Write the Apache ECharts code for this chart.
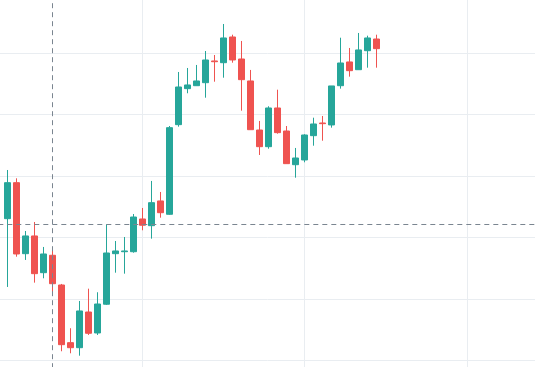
<!DOCTYPE html>
<html><head><meta charset="utf-8">
<script src="https://cdn.jsdelivr.net/npm/echarts@6/dist/echarts.min.js"></script>
<style>html,body{margin:0;padding:0;background:#fff}#c{width:535px;height:367px}</style>
</head><body><div id="c"></div>
<script>
const opens  = [123.08,128.93,117.39,120.27,114.30,117.13,112.30,102.93,102.11,107.91,104.50,109.17,117.39,117.71,117.71,123.03,121.94,125.96,123.79,138.36,144.21,144.69,145.18,148.71,148.43,152.61,149.03,145.46,137.49,134.78,141.07,137.33,131.85,132.62,136.57,138.63,138.31,144.69,148.55,147.29,150.38,152.28];
const closes = [128.93,117.34,120.27,114.14,117.34,112.51,102.60,102.11,108.08,104.45,109.21,117.50,117.83,117.83,123.35,122.01,125.68,124.05,137.87,144.48,144.81,145.46,148.87,148.59,152.45,148.87,145.67,137.54,134.78,141.07,137.06,132.02,132.94,136.68,138.47,138.52,144.65,148.38,147.13,150.50,152.45,150.71];
const lows   = [111.98,116.90,116.37,112.68,113.39,110.95,101.53,101.20,100.81,104.18,104.18,109.05,114.30,114.14,117.55,121.19,119.83,123.24,123.70,138.03,143.46,144.69,142.74,145.34,145.99,148.43,140.63,137.54,133.43,134.45,136.89,132.02,129.74,132.24,134.94,135.75,137.87,144.21,146.16,147.29,147.62,147.62];
const highs  = [130.99,129.64,121.08,122.54,118.48,118.15,112.47,105.27,109.70,111.70,111.12,122.17,119.45,120.10,123.84,124.82,129.21,127.42,138.14,146.92,147.57,148.06,150.33,149.68,154.72,152.98,151.96,147.25,138.96,141.35,144.04,138.14,134.57,136.80,139.49,139.77,144.65,152.49,150.82,153.26,152.82,152.98];
const totalSlots = 61;           // category slots (1 leading pad, 42 candles, trailing empty space)
const categories = Array.from({length: totalSlots}, (_, i) => 'D' + i);
const crossX = 'D6';
const crossY = 122.22;
const yMin = 90, yMax = 160, yStep = 10;

const data = [['-', '-', '-', '-']];
for (let i = 0; i < opens.length; i++) data.push([opens[i], closes[i], lows[i], highs[i]]);
while (data.length < totalSlots) data.push(['-', '-', '-', '-']);

const chart = echarts.init(document.getElementById('c'), null, {renderer: 'canvas'});
chart.setOption({
  animation: false,
  backgroundColor: '#ffffff',
  grid: {left: -1.7, width: 540.6, top: -8.5, height: 430.7, containLabel: false, outerBoundsMode: 'none'},
  xAxis: {
    type: 'category', data: categories, boundaryGap: false,
    axisLine: {show: false}, axisTick: {show: false}, axisLabel: {show: false},
    splitLine: {show: true, interval: (idx) => idx % 18 === 16, lineStyle: {color: '#e9edf1', width: 1}}
  },
  yAxis: {
    type: 'value', min: yMin, max: yMax, interval: yStep, scale: false,
    axisLine: {show: false}, axisTick: {show: false}, axisLabel: {show: false},
    splitLine: {show: true, lineStyle: {color: '#e9edf1', width: 1}}
  },
  series: [{
    type: 'candlestick', data: data, barWidth: 7,
    itemStyle: {color: '#26a69a', color0: '#ef5350', borderColor: '#26a69a', borderColor0: '#ef5350', borderWidth: 1},
    markLine: {
      silent: true, symbol: ['none', 'none'], label: {show: false},
      lineStyle: {color: '#7a8590', type: [5, 4], width: 1},
      data: [{xAxis: crossX}, {yAxis: crossY}]
    }
  }]
});
</script></body></html>
